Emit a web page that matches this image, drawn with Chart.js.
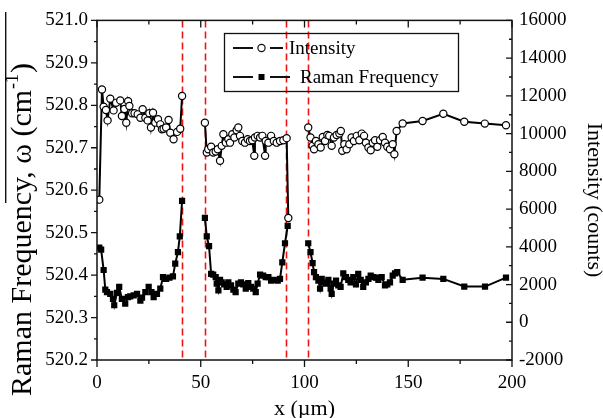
<!DOCTYPE html>
<html>
<head>
<meta charset="utf-8">
<script src="https://cdn.jsdelivr.net/npm/chart.js@4.4.1/dist/chart.umd.min.js"></script>
<style>
  html, body { margin: 0; padding: 0; background: #fff; }
  #wrap { width: 603px; height: 418px; }
</style>
</head>
<body>
<div id="wrap"><canvas id="chart" width="603" height="418"></canvas></div>
<script>
/* ── data (null = break in the scan) ───────────────────────────── */

const intensityX = [
  1.1, 2.4, 3.2, 4.3, 5.1, 6.4, 8.0, 9.2, 11.2, 12.0, 13.2, 14.1, 15.0, 15.6, 16.9, 18.1, 19.6, 20.9,
  22.0, 23.3, 24.4, 25.2, 26.0, 27.0, 28.1, 29.4, 30.5, 31.3, 32.1, 33.3, 34.5, 35.3, 36.9, 38.6, 40.1, 41.0,
  46,
  52.0, 52.9, 53.6, 55.0, 56.0, 57.2, 58.2, 59.3, 60.1, 60.9, 62.1, 63.3, 64.1, 65.2, 66.2, 67.3, 68.1, 68.9,
  70.0, 71.3, 72.6, 73.7, 74.8, 75.8, 76.1, 77.4, 78.6, 79.7, 81.0, 81.3, 82.6, 83.9, 85.2, 86.6, 88.2, 89.8,
  91.4, 92.2,
  97,
  101.8, 102.9, 103.9, 104.6, 105.5, 106.7, 107.8, 108.8, 109.9, 111.0, 111.9, 113.1, 114.2, 115.5, 116.8,
  117.5, 118.2, 119.2, 120.3, 121.6, 122.7, 123.8, 125.2, 126.4, 127.6, 128.7, 129.6, 130.8, 131.9, 132.9,
  134.0, 135.1, 136.4, 137.7, 138.8, 139.9, 141.2, 142.5, 143.3, 144.4, 147.3, 156.9, 166.9, 177.0, 186.9, 197.1
];
const intensityCounts = [
  6500, 12340, 11420, 11250, 10700, 11850, 11230, 11630, 11760, 10930, 11300, 10580, 11720, 11460, 11080, 11080, 11020, 10840,
  11290, 10840, 10700, 11080, 10320, 11110, 10580, 10760, 10490, 10230, 10260, 10320, 10720, 10050, 9700, 10090, 10260, 11990,
  null,
  10580, 9000, 9170, 9300, 9000, 9050, 9170, 8560, 9350, 9970, 9520, 9700, 9520, 9970, 9790, 10180, 10320, 9880,
  9610, 9520, 9700, 9610, 9650, 8820, 9790, 9880, 9790, 9880, 8820, 9610, 9520, 9880, 9610, 9520, 9610, 9650,
  9760, 5530,
  null,
  10320, 9790, 9350, 9170, 9610, 9440, 9260, 9820, 9610, 9930, 9880, 9350, 9790, 9930, 10000,
  10140, 9090, 9440, 9170, 9440, 9790, 9610, 9880, 9650, 10000, 9880, 9520, 9260, 9120, 9520,
  9650, 9300, 9650, 9820, 9520, 9300, 9170, 9440, 8910, 10140, 10540, 10670, 11050, 10630, 10530, 10440
];

const ramanX = [
  1.1, 2.0, 3.2, 4.0, 4.8, 6.4, 7.7, 8.3, 9.6, 10.7, 12.0, 13.6, 14.9, 16.0, 17.7, 19.3, 20.9, 21.7,
  23.3, 24.9, 26.2, 27.3, 28.9, 30.5, 31.8, 33.3, 34.9, 36.6, 37.7, 39.0, 39.9, 41.0,
  46,
  52.0, 52.9, 54.0, 55.0, 56.0, 57.2, 57.7, 58.5, 59.3, 60.1, 61.3, 62.5, 63.3, 64.6, 65.7, 66.8, 68.1, 69.4,
  70.5, 71.7, 72.9, 74.2, 75.3, 76.5, 77.4, 78.6, 80.1, 81.3, 82.6, 83.9, 85.4, 87.1, 88.2, 89.3, 90.6, 91.9,
  97,
  101.8, 102.9, 103.9, 104.6, 105.5, 106.7, 107.5, 108.3, 109.4, 110.4, 111.5, 112.6, 113.1, 113.9, 115.2,
  116.3, 117.4, 118.7, 120.0, 121.1, 122.2, 123.5, 124.8, 125.9, 127.1, 128.3, 129.6, 130.8, 131.9, 133.2,
  134.5, 135.6, 137.2, 138.8, 139.9, 141.2, 142.5, 143.6, 144.7, 147.3, 156.9, 166.9, 177.0, 187.0, 197.1
];
const ramanFreq = [
  520.465, 520.460, 520.412, 520.366, 520.360, 520.356, 520.344, 520.329, 520.358, 520.372, 520.344, 520.333,
  520.348, 520.350, 520.352, 520.356, 520.340, 520.347, 520.360, 520.372, 520.360, 520.348, 520.356, 520.368,
  520.395, 520.391, 520.394, 520.397, 520.427, 520.454, 520.491, 520.575,
  null,
  520.535, 520.491, 520.468, 520.403, 520.401, 520.395, 520.380, 520.364, 520.389, 520.383, 520.378, 520.372,
  520.383, 520.376, 520.366, 520.360, 520.380, 520.383, 520.378, 520.368, 520.381, 520.372, 520.368, 520.360,
  520.380, 520.401, 520.399, 520.395, 520.395, 520.387, 520.389, 520.387, 520.391, 520.430, 520.475, 520.516,
  null,
  520.475, 520.454, 520.428, 520.407, 520.395, 520.387, 520.368, 520.391, 520.383, 520.380, 520.389, 520.368,
  520.356, 520.380, 520.387, 520.376, 520.372, 520.404, 520.395, 520.389, 520.383, 520.395, 520.378, 520.403,
  520.389, 520.372, 520.383, 520.391, 520.399, 520.395, 520.394, 520.389, 520.395, 520.376, 520.378, 520.383,
  520.399, 520.404, 520.407, 520.389, 520.394, 520.391, 520.373, 520.373, 520.394
];

// dashed red lines marking the feature edges (µm)
const boundaryX = [41, 52, 91, 101.7];

// axis ranges and tick steps
const xRange = [0, 200];
const xStep = 50;
const ramanRange = [520.2, 521.0];
const ramanStep = 0.1;
const countsRange = [-2000, 16000];
const countsStep = 2000;

/* ── helpers ─────────────────────────────────────────────────── */

const SERIF = "'Liberation Serif', 'Times New Roman', serif";
const pairs = (xs, ys) => xs.map((x, i) => ({ x, y: ys[i] }));

function ticksFor(lo, hi, step) {
  const out = [];
  const n = Math.round((hi - lo) / step);
  for (let i = 0; i <= n; i++) out.push(lo + i * step);
  return out;
}

/* ── decorations: frame, tick marks, red markers, legend, titles ── */

const decor = {
  id: "decor",
  beforeDatasetsDraw(chart) {
    const { ctx, chartArea: a, scales } = chart;
    ctx.save();
    ctx.strokeStyle = "#f01414";
    ctx.lineWidth = 1.6;
    ctx.setLineDash([7, 4]);
    boundaryX.forEach((v) => {
      const px = Math.round(scales.x.getPixelForValue(v)) + 0.5;
      ctx.beginPath();
      ctx.moveTo(px, a.top);
      ctx.lineTo(px, a.bottom);
      ctx.stroke();
    });
    ctx.restore();
  },
  afterDraw(chart) {
    const { ctx, chartArea: a, scales } = chart;
    const sx = scales.x, sl = scales.y, sr = scales.y1;
    ctx.save();

    // frame
    ctx.strokeStyle = "#111";
    ctx.lineWidth = 1.5;
    ctx.strokeRect(a.left, a.top, a.right - a.left, a.bottom - a.top);

    // tick marks
    ctx.lineWidth = 1.3;
    ctx.beginPath();
    ticksFor(xRange[0], xRange[1], xStep / 2).forEach((v, i) => {
      const px = sx.getPixelForValue(v);
      const len = i % 2 === 0 ? 7 : 4;
      ctx.moveTo(px, a.bottom); ctx.lineTo(px, a.bottom + len);   // bottom, outward
      ctx.moveTo(px, a.top);    ctx.lineTo(px, a.top + len);      // top, inward
    });
    ticksFor(ramanRange[0], ramanRange[1], ramanStep / 2).forEach((v, i) => {
      const py = sl.getPixelForValue(v);
      const len = i % 2 === 0 ? 6 : 3;
      ctx.moveTo(a.left, py); ctx.lineTo(a.left - len, py);
    });
    ticksFor(countsRange[0], countsRange[1], countsStep / 2).forEach((v, i) => {
      const py = sr.getPixelForValue(v);
      const len = i % 2 === 0 ? 6 : 3;
      ctx.moveTo(a.right, py); ctx.lineTo(a.right - len, py);
    });
    ctx.stroke();

    // legend box
    ctx.lineWidth = 1.3;
    ctx.strokeStyle = "#111";
    ctx.strokeRect(224.5, 33.5, 234, 58);
    ctx.lineWidth = 2;
    [[48, "circle", 289, "Intensity"], [77, "rect", 300, "Raman Frequency"]].forEach(([y, shape, tx, label]) => {
      ctx.beginPath();
      ctx.moveTo(233, y); ctx.lineTo(253, y);
      ctx.moveTo(270, y); ctx.lineTo(shape === "circle" ? 283 : 290, y);
      ctx.stroke();
      if (shape === "circle") {
        ctx.beginPath();
        ctx.arc(261.5, y, 3.6, 0, Math.PI * 2);
        ctx.fillStyle = "#fff";
        ctx.fill();
        ctx.lineWidth = 1.2;
        ctx.stroke();
        ctx.lineWidth = 2;
      } else {
        ctx.fillStyle = "#000";
        ctx.fillRect(258.5, y - 3, 6, 6);
      }
      ctx.fillStyle = "#000";
      ctx.font = "19px " + SERIF;
      ctx.textBaseline = "middle";
      ctx.textAlign = "left";
      ctx.fillText(label, tx, y + 1);
    });

    // axis titles
    ctx.fillStyle = "#000";
    ctx.textBaseline = "alphabetic";
    ctx.font = "22px " + SERIF;
    ctx.textAlign = "center";
    ctx.fillText("x (\u00b5m)", (a.left + a.right) / 2, 415);

    // left title, reading bottom to top, larger type than the right one
    ctx.save();
    ctx.translate(31, 396);
    ctx.rotate(-Math.PI / 2);
    ctx.textAlign = "left";
    const big = "30px " + SERIF;
    const main = "Raman Frequency, \u03c9 (cm";
    ctx.font = big;
    ctx.fillText(main, 0, 0);
    let w = ctx.measureText(main).width;
    ctx.font = "18px " + SERIF;
    ctx.fillText("-1", w + 1, -13);
    w += ctx.measureText("-1").width + 2;
    ctx.font = big;
    ctx.fillText(")", w, 0);
    ctx.restore();

    // right title, reading top to bottom
    ctx.save();
    ctx.font = "22px " + SERIF;
    ctx.translate(588, 200);
    ctx.rotate(Math.PI / 2);
    ctx.textAlign = "center";
    ctx.fillText("Intensity (counts)", 0, 0);
    ctx.restore();

    // thin stray rule at the far left edge of the scan
    ctx.fillStyle = "#111";
    ctx.fillRect(5, 12, 1.4, 191);

    ctx.restore();
  }
};

/* ── chart ────────────────────────────────────────────────────── */

const tickFont = { family: SERIF, size: 19 };

new Chart(document.getElementById("chart"), {
  type: "line",
  data: {
    datasets: [
      {
        label: "Intensity",
        data: pairs(intensityX, intensityCounts),
        yAxisID: "y1",
        borderColor: "#000",
        borderWidth: 2,
        pointStyle: "circle",
        pointRadius: 3.6,
        pointBorderWidth: 1.2,
        pointBackgroundColor: "#fff",
        pointBorderColor: "#000",
        spanGaps: false,
        tension: 0,
      },
      {
        label: "Raman Frequency",
        data: pairs(ramanX, ramanFreq),
        yAxisID: "y",
        borderColor: "#000",
        borderWidth: 2,
        pointStyle: "rect",
        pointRadius: 4.4,
        pointBorderWidth: 0,
        pointBackgroundColor: "#000",
        pointBorderColor: "#000",
        spanGaps: false,
        tension: 0,
      },
    ],
  },
  options: {
    responsive: false,
    animation: false,
    layout: { padding: { top: 19, left: 0, right: 0, bottom: 0 } },
    plugins: { legend: { display: false }, tooltip: { enabled: false } },
    scales: {
      x: {
        type: "linear",
        min: xRange[0], max: xRange[1],
        grid: { display: false, drawTicks: false },
        border: { display: false },
        ticks: { stepSize: xStep, font: tickFont, color: "#000", padding: 12, maxRotation: 0 },
        afterFit: (s) => { s.height = 58; },
      },
      y: {
        position: "left",
        min: ramanRange[0], max: ramanRange[1],
        grid: { display: false, drawTicks: false },
        border: { display: false },
        ticks: { stepSize: ramanStep, font: tickFont, color: "#000", padding: 9, callback: (v) => v.toFixed(1) },
        afterFit: (s) => { s.width = 97; },
      },
      y1: {
        position: "right",
        min: countsRange[0], max: countsRange[1],
        grid: { display: false, drawTicks: false },
        border: { display: false },
        ticks: { stepSize: countsStep, font: tickFont, color: "#000", padding: 7, callback: (v) => String(v) },
        afterFit: (s) => { s.width = 91; },
      },
    },
  },
  plugins: [decor],
});
</script>
</body>
</html>
